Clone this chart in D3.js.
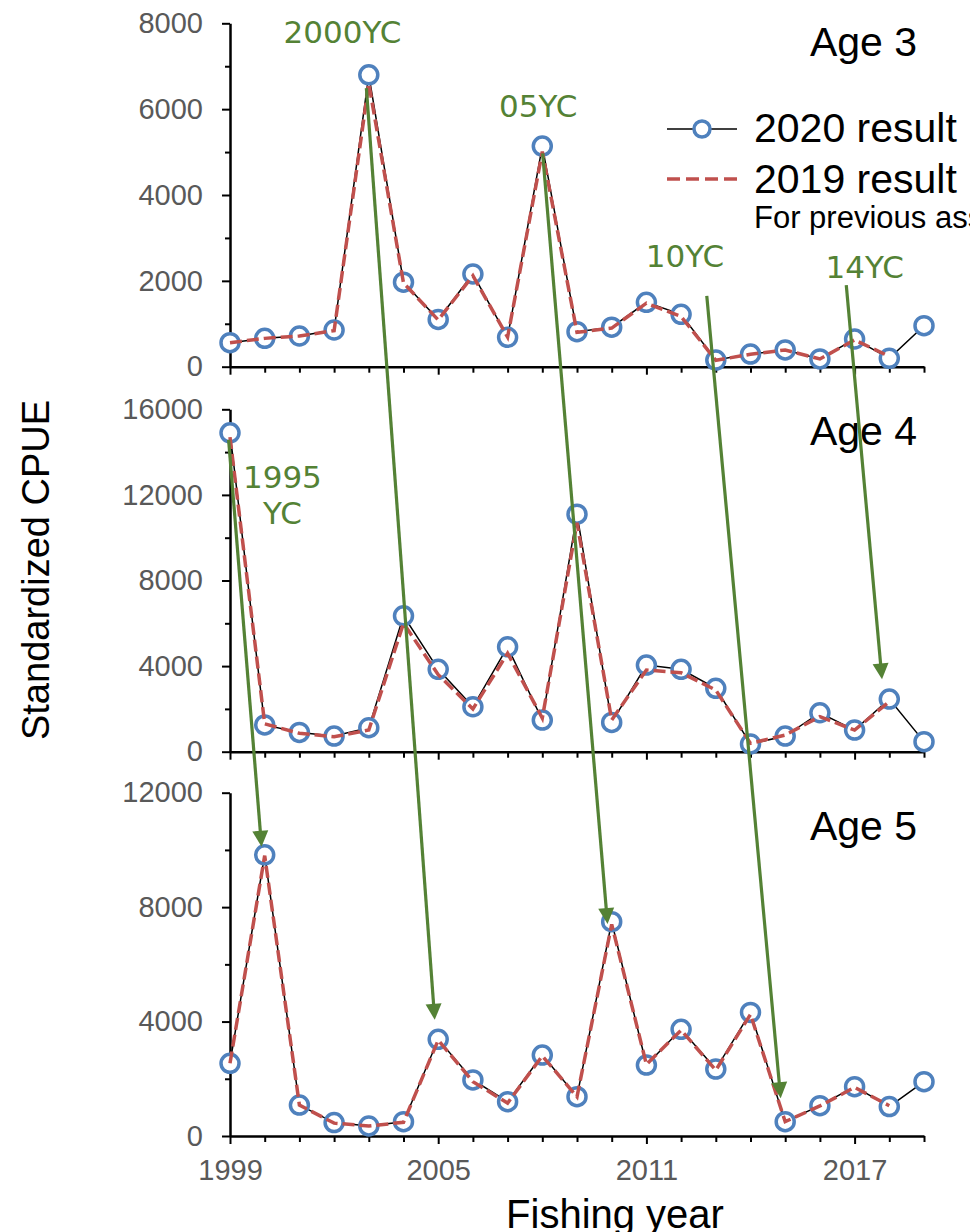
<!DOCTYPE html>
<html>
<head>
<meta charset="utf-8">
<script src="https://cdn.jsdelivr.net/npm/d3@7"></script>
<style>
	body { margin: 0; background: #fff; }
	svg { display: block; }
</style>
</head>
<body>
<svg id="chart" width="970" height="1232"></svg>
<script>
// data
var years = [1999, 2000, 2001, 2002, 2003, 2004, 2005, 2006, 2007, 2008, 2009,
	2010, 2011, 2012, 2013, 2014, 2015, 2016, 2017, 2018, 2019];

var age3_2020 = [560, 660, 715, 855, 6800, 1970, 1100, 2160, 685, 5140, 815, 920, 1500, 1220, 155, 295, 390, 180, 645, 195, 955];
var age3_2019 = [560, 660, 715, 840, 6600, 1950, 1090, 2120, 690, 5010, 800, 900, 1480, 1170, 150, 290, 390, 180, 625, 240];

var age4_2020 = [14900, 1250, 900, 730, 1120, 6350, 3850, 2100, 4900, 1480, 11100, 1370, 4050, 3850, 2960, 360, 730, 1820, 1010, 2460, 470];
var age4_2019 = [14700, 1300, 860, 700, 1010, 6000, 3600, 2000, 4600, 1570, 10700, 1480, 3820, 3690, 2880, 390, 780, 1640, 1010, 2340];

var age5_2020 = [2540, 9830, 1080, 470, 350, 500, 3380, 1960, 1200, 2830, 1375, 7490, 2480, 3730, 2340, 4320, 500, 1060, 1725, 1030, 1900];
var age5_2019 = [2540, 9800, 1080, 450, 350, 480, 3350, 1900, 1150, 2800, 1370, 7400, 2500, 3700, 2300, 4250, 500, 1050, 1700, 1060];

var panelNames = ["Age 3", "Age 4", "Age 5"];
var panelMax = [8000, 16000, 12000];
var majorTicks = [[0, 2000, 4000, 6000, 8000], [0, 4000, 8000, 12000, 16000], [0, 4000, 8000, 12000]];
var minorTicks = [[1000, 3000, 5000, 7000], [2000, 6000, 10000, 14000], [2000, 6000, 10000]];
var yearLabels = [1999, 2005, 2011, 2017];

// year-class arrows (panel, year, value) -> (panel, year, value)
var cohortArrows = [
	{from: [1, 1998.96, 14570], to: [2, 1999.91, 10110]},
	{from: [0, 2002.93, 6490], to: [2, 2004.9, 4060]},
	{from: [0, 2008.01, 4970], to: [2, 2009.88, 7410]},
	{from: [0, 2012.74, 1650], to: [2, 2014.87, 1320]},
	{from: [0, 2016.76, 1900], to: [1, 2017.79, 3380]}
];
var cohortLabels = [
	{panel: 0, year: 2002.24, value: 7550, lines: ["2000YC"]},
	{panel: 0, year: 2007.88, value: 5820, lines: ["05YC"]},
	{panel: 0, year: 2012.11, value: 2330, lines: ["10YC"]},
	{panel: 0, year: 2017.29, value: 2060, lines: ["14YC"]},
	{panel: 1, year: 2000.51, value: 12300, lines: ["1995", "YC"]}
];

var series2020 = [age3_2020, age4_2020, age5_2020];
var series2019 = [age3_2019, age4_2019, age5_2019];

// layout
var svg = d3.select("#chart");
var x = d3.scaleLinear().domain([1999, 2019]).range([230, 924]);
var panelRange = [[366.7, 23.3], [751.7, 409.3], [1136, 792.7]];
var yScales = panelMax.map(function(m, i) {
	return d3.scaleLinear().domain([0, m]).range(panelRange[i]);
});

var blue = "#4F81BD", red = "#C0504D", green = "#548235", grey = "#595959";
var sans = "'Liberation Sans', Arial, sans-serif";

yScales.forEach(function(y, p) {
	var g = svg.append("g");

	// minor y ticks
	g.append("g")
		.attr("transform", "translate(" + x(1999) + ",0)")
		.call(d3.axisLeft(y).tickValues(minorTicks[p]).tickSize(5).tickFormat(""))
		.call(function(a) { a.select(".domain").remove(); });

	// major y ticks
	var ya = g.append("g")
		.attr("transform", "translate(" + x(1999) + ",0)")
		.call(d3.axisLeft(y).tickValues(majorTicks[p]).tickSize(8).tickPadding(19)
			.tickSizeOuter(0).tickFormat(d3.format("d")));
	ya.selectAll("text")
		.attr("font-family", sans).attr("font-size", 29).attr("fill", grey);

	// x ticks
	var xa = g.append("g")
		.attr("transform", "translate(0," + y(0) + ")")
		.call(d3.axisBottom(x).tickValues(years).tickSizeOuter(0).tickPadding(17)
			.tickFormat(function(d) { return (p === 2 && yearLabels.indexOf(d) >= 0) ? d : ""; }));
	xa.selectAll(".tick line")
		.attr("y2", function(d) { return yearLabels.indexOf(d) >= 0 ? 8 : 6; });
	xa.selectAll("text")
		.attr("font-family", sans).attr("font-size", 29).attr("fill", grey);

	g.selectAll(".domain").attr("stroke", "#000").attr("stroke-width", 2.5);
	g.selectAll(".tick line").attr("stroke", "#000").attr("stroke-width", 2);

	var line = d3.line()
		.x(function(d, i) { return x(years[i]); })
		.y(function(d) { return y(d); });

	// 2020 result
	g.append("path")
		.datum(series2020[p])
		.attr("fill", "none")
		.attr("stroke", "#000")
		.attr("stroke-width", 1.5)
		.attr("d", line);

	g.selectAll(".pt")
		.data(series2020[p])
		.enter()
		.append("circle")
			.attr("class", "pt")
			.attr("cx", function(d, i) { return x(years[i]); })
			.attr("cy", function(d) { return y(d); })
			.attr("r", 9)
			.attr("fill", "#fff")
			.attr("stroke", blue)
			.attr("stroke-width", 3.5);

	// 2019 result
	g.append("path")
		.datum(series2019[p])
		.attr("fill", "none")
		.attr("stroke", red)
		.attr("stroke-width", 3.5)
		.attr("stroke-dasharray", "12,5")
		.attr("d", line);

	// panel title
	g.append("text")
		.attr("x", x(2018.8))
		.attr("y", y(panelMax[p]) + [33, 36, 47][p])
		.attr("text-anchor", "end")
		.attr("font-family", sans)
		.attr("font-size", 41)
		.attr("fill", "#000")
		.text(panelNames[p]);
});

// legend
var leg = svg.append("g");
leg.append("line").attr("x1", 667).attr("x2", 737).attr("y1", 129).attr("y2", 129)
	.attr("stroke", "#000").attr("stroke-width", 1.5);
leg.append("circle").attr("cx", 702).attr("cy", 129).attr("r", 8)
	.attr("fill", "#fff").attr("stroke", blue).attr("stroke-width", 3.5);
leg.append("line").attr("x1", 667).attr("x2", 738).attr("y1", 179).attr("y2", 179)
	.attr("stroke", red).attr("stroke-width", 3.5).attr("stroke-dasharray", "13,6");
leg.append("text").attr("x", 754).attr("y", 142)
	.attr("font-family", sans).attr("font-size", 41).text("2020 result");
leg.append("text").attr("x", 754).attr("y", 193)
	.attr("font-family", sans).attr("font-size", 41).text("2019 result");
leg.append("text").attr("x", 754).attr("y", 228)
	.attr("font-family", sans).attr("font-size", 31).text("For previous assessment");

// axis titles
svg.append("text")
	.attr("transform", "translate(49,570) rotate(-90)")
	.attr("text-anchor", "middle")
	.attr("font-family", sans)
	.attr("font-size", 38)
	.text("Standardized CPUE");

svg.append("text")
	.attr("x", 615)
	.attr("y", 1228)
	.attr("text-anchor", "middle")
	.attr("font-family", sans)
	.attr("font-size", 40)
	.text("Fishing year");

// cohort arrows
function pt(a) { return [x(a[1]), yScales[a[0]](a[2])]; }

var arrows = svg.append("g");
cohortArrows.forEach(function(a) {
	var p1 = pt(a.from), p2 = pt(a.to);
	var dx = p2[0] - p1[0], dy = p2[1] - p1[1];
	var len = Math.sqrt(dx * dx + dy * dy);
	var ux = dx / len, uy = dy / len;
	var headLen = 16, headW = 8;
	var bx = p2[0] - ux * headLen, by = p2[1] - uy * headLen;
	arrows.append("line")
		.attr("x1", p1[0]).attr("y1", p1[1])
		.attr("x2", bx + ux * 2).attr("y2", by + uy * 2)
		.attr("stroke", green)
		.attr("stroke-width", 3.2);
	arrows.append("path")
		.attr("d", "M" + p2[0] + "," + p2[1] +
			"L" + (bx - uy * headW) + "," + (by + ux * headW) +
			"L" + (bx + uy * headW) + "," + (by - ux * headW) + "Z")
		.attr("fill", green);
});

cohortLabels.forEach(function(l) {
	var t = arrows.append("text")
		.attr("x", x(l.year))
		.attr("y", yScales[l.panel](l.value))
		.attr("text-anchor", "middle")
		.attr("font-family", "'DejaVu Sans', Verdana, sans-serif")
		.attr("font-size", 31)
		.attr("fill", green);
	l.lines.forEach(function(s, i) {
		t.append("tspan")
			.attr("x", x(l.year))
			.attr("dy", i === 0 ? 0 : 36)
			.text(s);
	});
});
</script>
</body>
</html>
